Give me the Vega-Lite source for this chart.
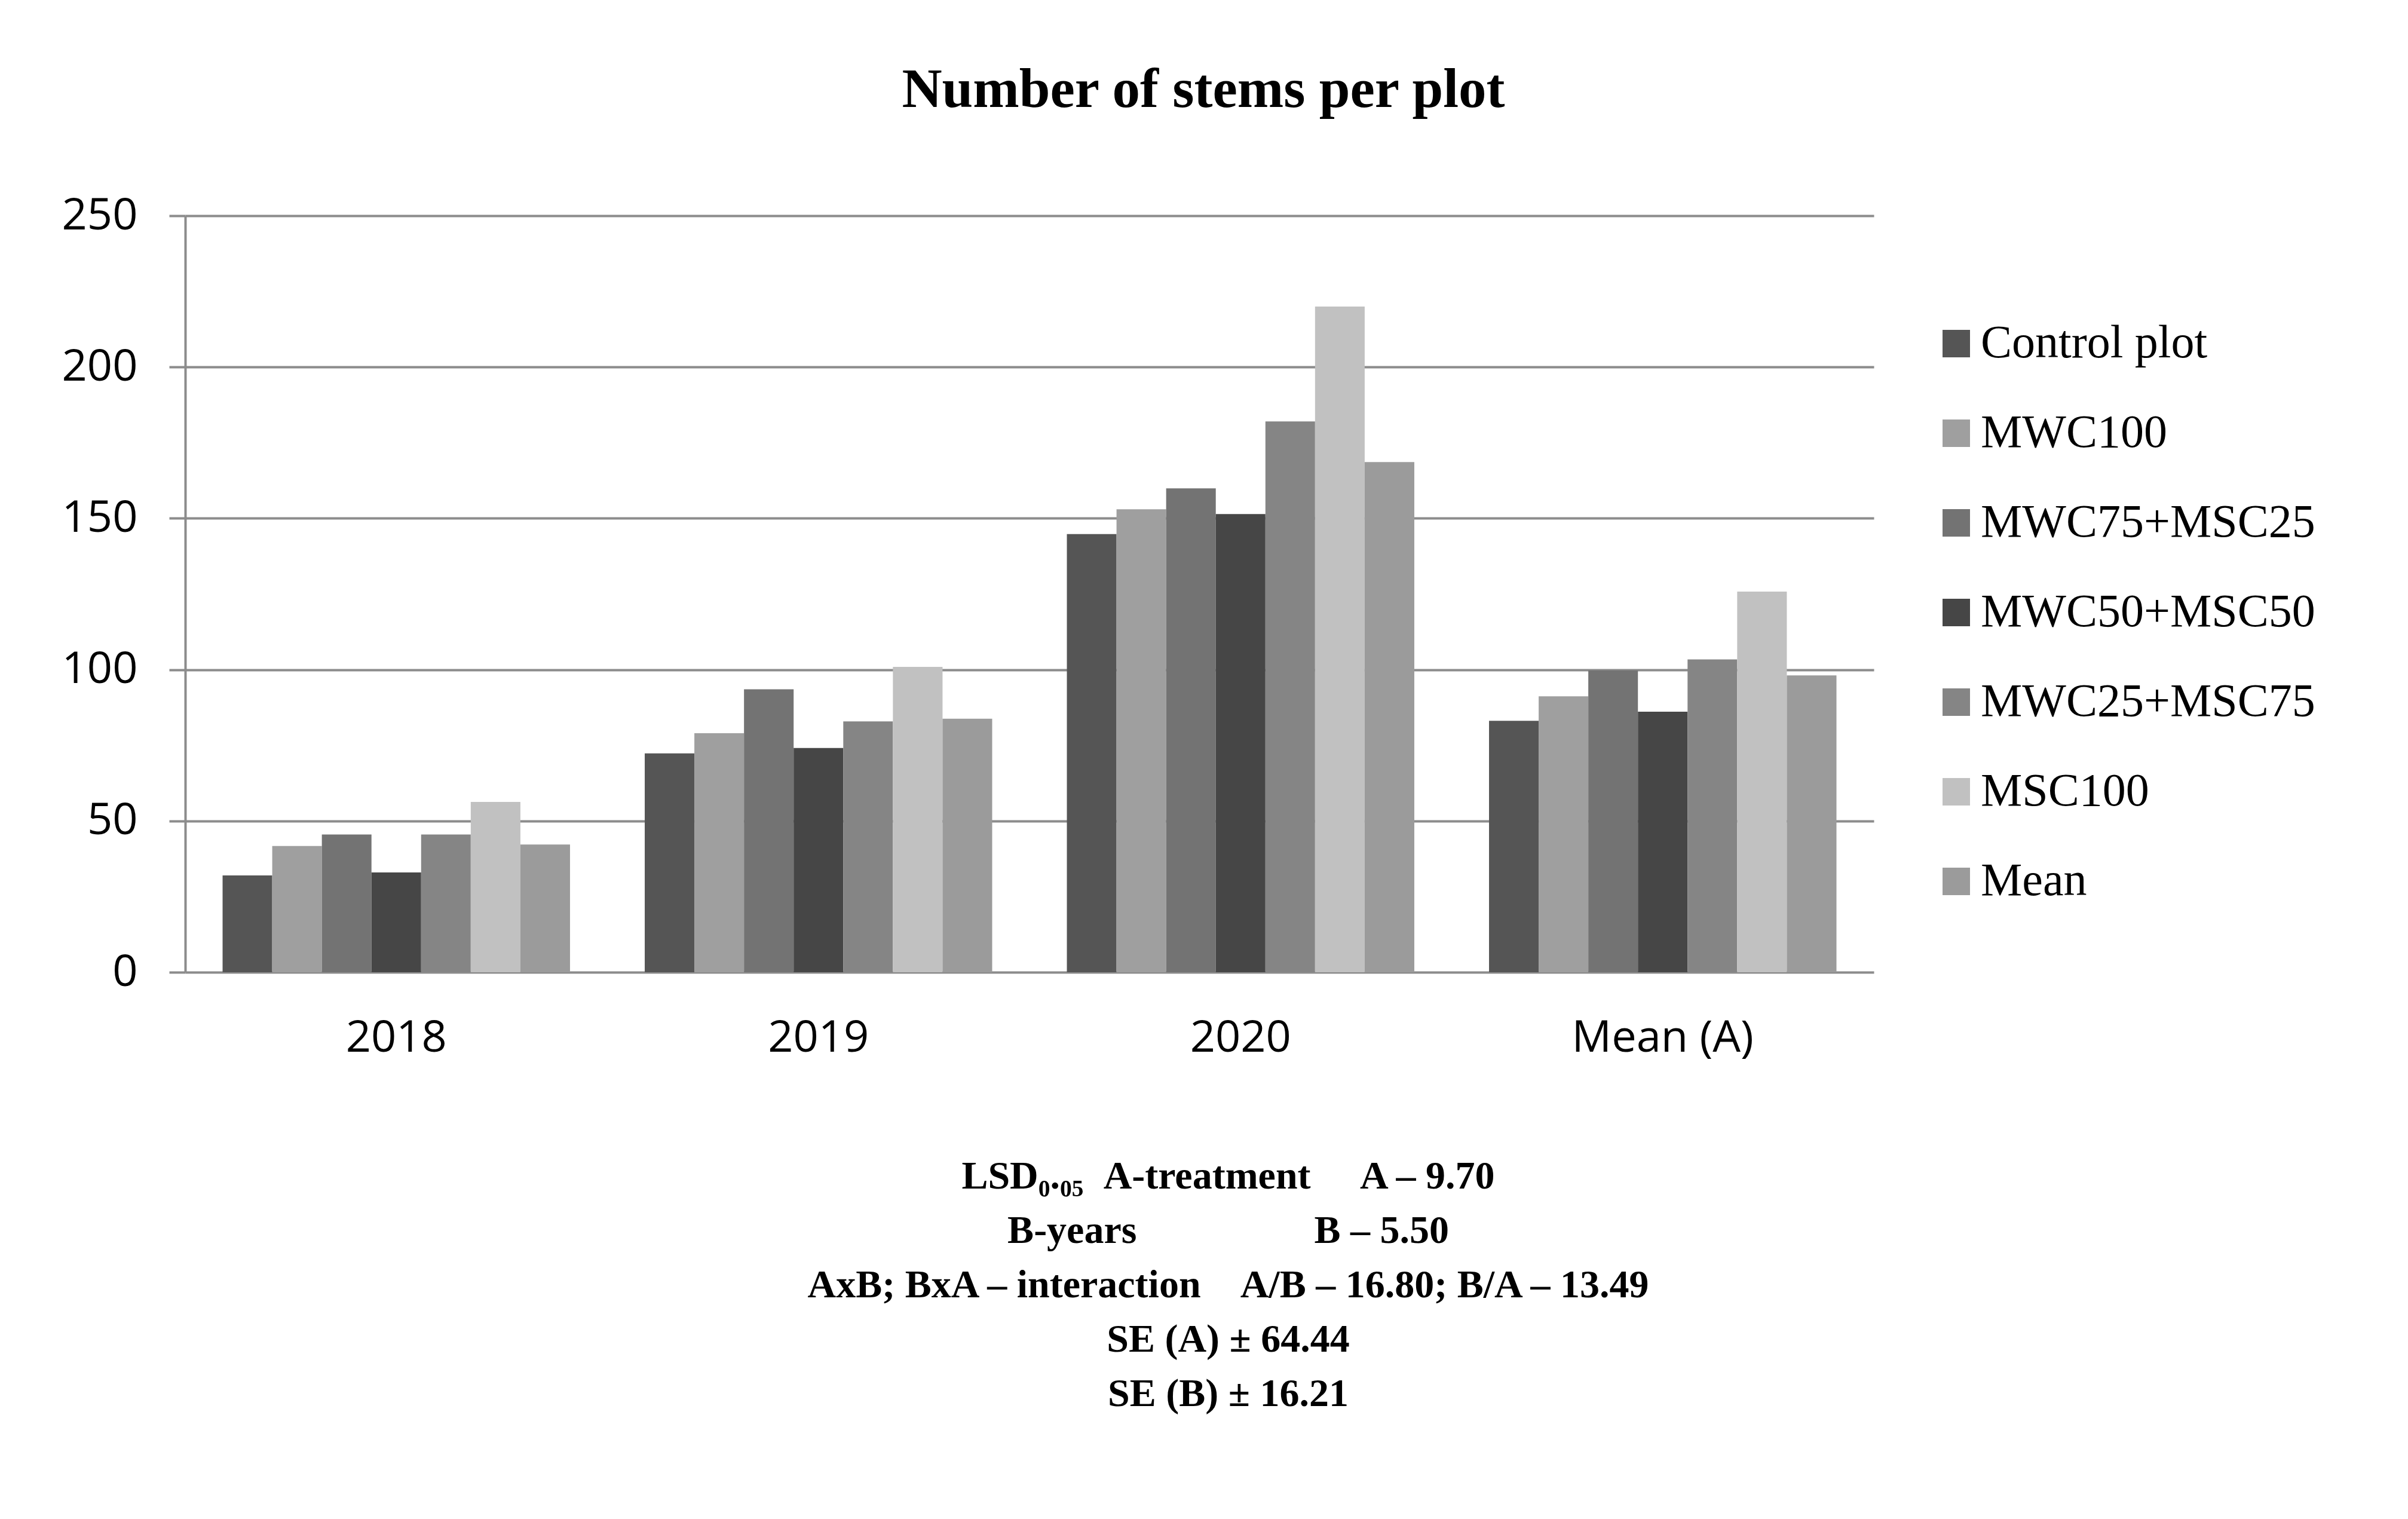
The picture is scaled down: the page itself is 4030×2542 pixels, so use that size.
{
  "$schema": "https://vega.github.io/schema/vega-lite/v6.json",
  "width": 2826,
  "height": 1266,
  "autosize": {"type": "none"},
  "padding": {"left": 310, "top": 361, "right": 894, "bottom": 915},
  "background": "white",
  "title": {
    "text": "Number of stems per plot",
    "font": "Liberation Serif",
    "fontSize": 93,
    "fontWeight": "bold",
    "color": "black",
    "anchor": "middle",
    "frame": "group",
    "dx": 291,
    "baseline": "alphabetic",
    "offset": 52
  },
  "data": {
    "values": [
      {"year": "2018", "treatment": "Control plot", "value": 32.0},
      {"year": "2018", "treatment": "MWC100", "value": 41.7},
      {"year": "2018", "treatment": "MWC75+MSC25", "value": 45.5},
      {"year": "2018", "treatment": "MWC50+MSC50", "value": 33.0},
      {"year": "2018", "treatment": "MWC25+MSC75", "value": 45.5},
      {"year": "2018", "treatment": "MSC100", "value": 56.3},
      {"year": "2018", "treatment": "Mean", "value": 42.2},
      {"year": "2019", "treatment": "Control plot", "value": 72.3},
      {"year": "2019", "treatment": "MWC100", "value": 79.0},
      {"year": "2019", "treatment": "MWC75+MSC25", "value": 93.5},
      {"year": "2019", "treatment": "MWC50+MSC50", "value": 74.1},
      {"year": "2019", "treatment": "MWC25+MSC75", "value": 82.9},
      {"year": "2019", "treatment": "MSC100", "value": 100.9},
      {"year": "2019", "treatment": "Mean", "value": 83.8},
      {"year": "2020", "treatment": "Control plot", "value": 144.8},
      {"year": "2020", "treatment": "MWC100", "value": 153.0},
      {"year": "2020", "treatment": "MWC75+MSC25", "value": 159.9},
      {"year": "2020", "treatment": "MWC50+MSC50", "value": 151.4},
      {"year": "2020", "treatment": "MWC25+MSC75", "value": 182.0},
      {"year": "2020", "treatment": "MSC100", "value": 220.0},
      {"year": "2020", "treatment": "Mean", "value": 168.6},
      {"year": "Mean (A)", "treatment": "Control plot", "value": 83.1},
      {"year": "Mean (A)", "treatment": "MWC100", "value": 91.2},
      {"year": "Mean (A)", "treatment": "MWC75+MSC25", "value": 99.7},
      {"year": "Mean (A)", "treatment": "MWC50+MSC50", "value": 86.1},
      {"year": "Mean (A)", "treatment": "MWC25+MSC75", "value": 103.4},
      {"year": "Mean (A)", "treatment": "MSC100", "value": 125.8},
      {"year": "Mean (A)", "treatment": "Mean", "value": 98.1}
    ]
  },
  "mark": {"type": "bar", "strokeWidth": 0},
  "encoding": {
    "x": {
      "field": "year",
      "type": "nominal",
      "sort": ["2018", "2019", "2020", "Mean (A)"],
      "scale": {"paddingInner": 0.177, "paddingOuter": 0.0885},
      "axis": {
        "labelAngle": 0,
        "domain": false,
        "ticks": false,
        "tickSize": 0,
        "labelPadding": 74,
        "labelLimit": 1000,
        "labelFont": "Open Sans",
        "labelFontSize": 74,
        "labelColor": "black",
        "title": [
          "LSD₀.₀₅\u00a0\u00a0A-treatment\u00a0\u00a0\u00a0\u00a0\u00a0A – 9.70",
          "B-years\u00a0\u00a0\u00a0\u00a0\u00a0\u00a0\u00a0\u00a0\u00a0\u00a0\u00a0\u00a0\u00a0\u00a0\u00a0\u00a0\u00a0\u00a0B – 5.50",
          "AxB; BxA – interaction\u00a0\u00a0\u00a0\u00a0A/B – 16.80; B/A – 13.49",
          "SE (A) ± 64.44",
          "SE (B) ± 16.21"
        ],
        "titleFont": "Liberation Serif",
        "titleFontSize": 66,
        "titleFontWeight": "bold",
        "titleColor": "black",
        "titleLineHeight": 91,
        "titleX": 1745,
        "titleY": 361,
        "titleAlign": "center",
        "titleAnchor": null,
        "titleBaseline": "alphabetic"
      }
    },
    "xOffset": {
      "field": "treatment",
      "type": "nominal",
      "sort": ["Control plot", "MWC100", "MWC75+MSC25", "MWC50+MSC50", "MWC25+MSC75", "MSC100", "Mean"],
      "scale": {"paddingInner": 0, "paddingOuter": 0}
    },
    "y": {
      "field": "value",
      "type": "quantitative",
      "scale": {"domain": [0, 250], "nice": false},
      "axis": {
        "values": [0, 50, 100, 150, 200, 250],
        "title": null,
        "grid": true,
        "gridColor": "#8c8c8c",
        "gridWidth": 4,
        "domain": true,
        "domainColor": "#8c8c8c",
        "domainWidth": 4,
        "ticks": true,
        "tickColor": "#8c8c8c",
        "tickWidth": 4,
        "tickSize": 27,
        "labelPadding": 53,
        "labelFont": "Open Sans",
        "labelFontSize": 74,
        "labelColor": "black"
      }
    },
    "color": {
      "field": "treatment",
      "type": "nominal",
      "scale": {
        "domain": ["Control plot", "MWC100", "MWC75+MSC25", "MWC50+MSC50", "MWC25+MSC75", "MSC100", "Mean"],
        "range": ["#555555", "#9f9f9f", "#737373", "#464646", "#858585", "#c1c1c1", "#9b9b9b"]
      },
      "legend": {
        "title": null,
        "orient": "none",
        "legendX": 2925,
        "legendY": 175,
        "padding": 0,
        "symbolType": "square",
        "symbolSize": 2116,
        "symbolStrokeWidth": 0,
        "symbolOpacity": 1,
        "labelFont": "Liberation Serif",
        "labelFontSize": 78,
        "labelColor": "black",
        "labelOffset": 2,
        "rowPadding": 72,
        "labelLimit": 1000
      }
    }
  },
  "config": {
    "view": {"stroke": null}
  }
}
